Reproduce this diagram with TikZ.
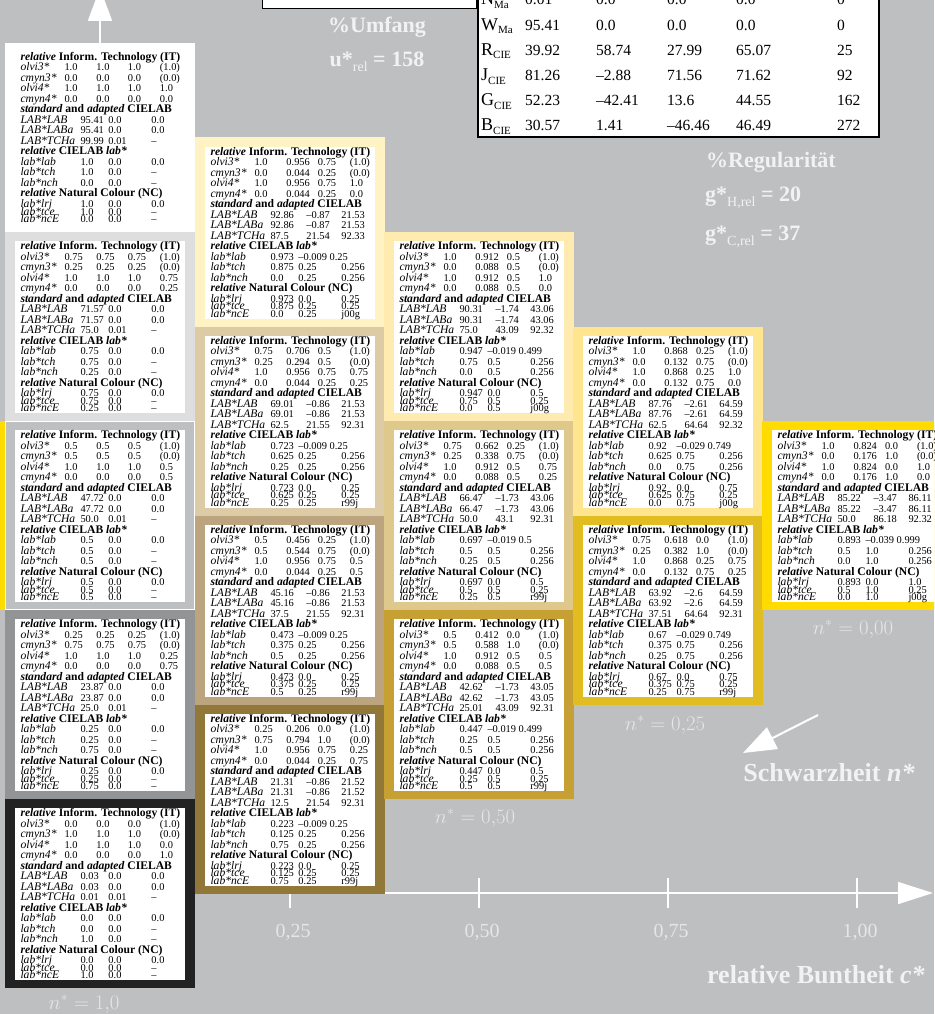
\documentclass[tikz,border=0pt]{standalone}
\usepackage{fontspec}
\setmainfont{Liberation Serif}
\usetikzlibrary{arrows.meta}
\definecolor{bg}{HTML}{BEBFC1}
\definecolor{lite}{HTML}{F2F2F2}
\definecolor{nlab}{HTML}{E6E6E6}
\definecolor{colA0}{HTML}{FFFFFF}
\definecolor{colA1}{HTML}{DEDEDE}
\definecolor{colA2}{HTML}{BEBFC1}
\definecolor{colA3}{HTML}{939496}
\definecolor{colA4}{HTML}{222222}
\definecolor{colB0}{HTML}{FFF3C4}
\definecolor{colB1}{HTML}{DCCBA4}
\definecolor{colB2}{HTML}{BBA47E}
\definecolor{colB3}{HTML}{917839}
\definecolor{colC0}{HTML}{FFEBB0}
\definecolor{colC1}{HTML}{DEC88C}
\definecolor{colC2}{HTML}{C7A034}
\definecolor{colD0}{HTML}{FFE68E}
\definecolor{colD1}{HTML}{E1BD22}
\definecolor{colE0}{HTML}{FFDB00}
\newcommand\cellfont{\fontsize{11.6}{10.5}\selectfont\lineskiplimit=-30pt\lineskip=0pt}
\newcommand\numf{\fontsize{10.4}{10.5}\selectfont}
\newcommand\rowIT[5]{\hbox{\makebox[44pt][l]{\itshape #1}\makebox[32pt][l]{\numf #2}\makebox[31.5pt][l]{\numf #3}\makebox[32pt][l]{\numf #4}{\numf #5}}}
\newcommand\rowG[4]{\hbox{\makebox[60pt][l]{\itshape #1}\makebox[28pt][l]{\numf #2}\makebox[43pt][l]{\numf #3}{\numf #4}}}
\newcommand\rowB[4]{\hbox{\makebox[60pt][l]{\itshape #1}\makebox[36pt][l]{\numf #2}\makebox[35pt][l]{\numf #3}{\numf #4}}}
\newcommand\rowL[4]{\hbox{\makebox[60pt][l]{\itshape #1}\makebox[28pt][l]{\numf #2}\makebox[43pt][l]{\numf #3}{\numf #4}}}
\newcommand\hA{\hbox{\textbf{\textit{relative} Inform. Technology (IT)}}}
\newcommand\hB{\hbox{\textbf{\textit{standard} and \textit{adapted} CIELAB}}}
\newcommand\hC{\hbox{\textbf{\textit{relative} CIELAB \textit{lab*}}}}
\newcommand\hD{\hbox{\textbf{\textit{relative} Natural Colour (NC)}}}
\newcommand\tight{\vskip-2.9pt}
\newcommand\cellat[5]{%
  \fill[#4] (#2,#3) rectangle ++(190,189);
  \fill[white] (#2+10,#3+9) rectangle ++(170,172);
  \node[cellt] (#1) at (#2+15.5,#3+17.5) {\vtop{\cellfont #5}};
}
\newcommand\trow[9]{%
  \node[tl] (#1L) at (481,#2) {{\fontsize{18}{18}\selectfont #3}\raisebox{-3.5pt}{\fontsize{11}{11}\selectfont #4}};
  \node[tv] (#1a) at (525,#2) {#5};
  \node[tv] (#1b) at (596,#2) {#6};
  \node[tv] (#1c) at (667,#2) {#7};
  \node[tv] (#1d) at (736,#2) {#8};
  \node[tv] (#1e) at (837,#2) {#9};
}
\begin{document}
\begin{tikzpicture}[x=1pt,y=-1pt,
  cellt/.style={anchor=base west,inner sep=0,outer sep=0},
  tl/.style={anchor=base west,inner sep=0},
  tv/.style={anchor=base west,inner sep=0,font=\fontsize{15.5}{16}\selectfont},
  biglab/.style={text=lite,inner sep=0,font=\fontsize{22}{24}\selectfont\bfseries},
  hugelab/.style={text=lite,inner sep=0,font=\fontsize{26}{28}\selectfont\bfseries},
  nlabel/.style={text=nlab,inner sep=0,font=\fontsize{21}{22}\selectfont},
  ticklab/.style={text=nlab,inner sep=0,font=\fontsize{20}{22}\selectfont},
  warrow/.style={draw=white,line width=2pt,-{Triangle[length=33pt,width=24pt]}},
  axisline/.style={draw=white,line width=1.7pt},
  tick/.style={draw=white,line width=1.7pt}]
\useasboundingbox (0,0) rectangle (934,1014);
\clip (0,0) rectangle (934,1014);
\fill[bg] (0,0) rectangle (934,1014);
% axis (behind cells)
\coordinate (ax0) at (195,893);
\coordinate (ax1) at (933,893);
\draw[axisline,-{Triangle[length=35pt,width=22pt]}] (ax0) -- (ax1);
\foreach \tx/\tl in {290/{0,25},479/{0,50},668/{0,75},857/{1,00}}{
  \coordinate (tA\tx) at (\tx,878);
  \coordinate (tB\tx) at (\tx,908);
  \draw[tick] (tA\tx) -- (tB\tx);
  \node[ticklab] (tl\tx) at (\tx+3,932) {\tl};
}
% up arrow
\coordinate (uA) at (100,43);
\coordinate (uB) at (100,-12);
\draw[warrow] (uA) -- (uB);
% yellow strip at left
\fill[colE0] (0,421) rectangle (5,610);
% column 0
\cellat{c00}{5}{43}{colA0}{%
\hA
\rowIT{olvi3*}{1.0}{1.0}{1.0}{(1.0)}
\rowIT{cmyn3*}{0.0}{0.0}{0.0}{(0.0)}
\rowIT{olvi4*}{1.0}{1.0}{1.0}{1.0}
\rowIT{cmyn4*}{0.0}{0.0}{0.0}{0.0}
\hB
\rowG{LAB*LAB}{95.41}{0.0}{0.0}
\rowG{LAB*LABa}{95.41}{0.0}{0.0}
\rowG{LAB*TCHa}{99.99}{0.01}{–}
\hC
\rowL{lab*lab}{1.0}{0.0}{0.0}
\rowL{lab*tch}{1.0}{0.0}{–}
\rowL{lab*nch}{0.0}{0.0}{–}
\hD
\rowL{lab*lrj}{1.0}{0.0}{0.0}\tight
\rowL{lab*tce}{1.0}{0.0}{–}\tight
\rowL{lab*ncE}{0.0}{0.0}{–}}
\cellat{c01}{5}{232}{colA1}{%
\hA
\rowIT{olvi3*}{0.75}{0.75}{0.75}{(1.0)}
\rowIT{cmyn3*}{0.25}{0.25}{0.25}{(0.0)}
\rowIT{olvi4*}{1.0}{1.0}{1.0}{0.75}
\rowIT{cmyn4*}{0.0}{0.0}{0.0}{0.25}
\hB
\rowG{LAB*LAB}{71.57}{0.0}{0.0}
\rowG{LAB*LABa}{71.57}{0.0}{0.0}
\rowG{LAB*TCHa}{75.0}{0.01}{–}
\hC
\rowL{lab*lab}{0.75}{0.0}{0.0}
\rowL{lab*tch}{0.75}{0.0}{–}
\rowL{lab*nch}{0.25}{0.0}{–}
\hD
\rowL{lab*lrj}{0.75}{0.0}{0.0}\tight
\rowL{lab*tce}{0.75}{0.0}{–}\tight
\rowL{lab*ncE}{0.25}{0.0}{–}}
\cellat{c02}{5}{421}{colA2}{%
\hA
\rowIT{olvi3*}{0.5}{0.5}{0.5}{(1.0)}
\rowIT{cmyn3*}{0.5}{0.5}{0.5}{(0.0)}
\rowIT{olvi4*}{1.0}{1.0}{1.0}{0.5}
\rowIT{cmyn4*}{0.0}{0.0}{0.0}{0.5}
\hB
\rowG{LAB*LAB}{47.72}{0.0}{0.0}
\rowG{LAB*LABa}{47.72}{0.0}{0.0}
\rowG{LAB*TCHa}{50.0}{0.01}{–}
\hC
\rowL{lab*lab}{0.5}{0.0}{0.0}
\rowL{lab*tch}{0.5}{0.0}{–}
\rowL{lab*nch}{0.5}{0.0}{–}
\hD
\rowL{lab*lrj}{0.5}{0.0}{0.0}\tight
\rowL{lab*tce}{0.5}{0.0}{–}\tight
\rowL{lab*ncE}{0.5}{0.0}{–}}
\draw[white,line width=1pt] (5.5,421.5) rectangle (194.5,609.5);
\cellat{c03}{5}{610}{colA3}{%
\hA
\rowIT{olvi3*}{0.25}{0.25}{0.25}{(1.0)}
\rowIT{cmyn3*}{0.75}{0.75}{0.75}{(0.0)}
\rowIT{olvi4*}{1.0}{1.0}{1.0}{0.25}
\rowIT{cmyn4*}{0.0}{0.0}{0.0}{0.75}
\hB
\rowG{LAB*LAB}{23.87}{0.0}{0.0}
\rowG{LAB*LABa}{23.87}{0.0}{0.0}
\rowG{LAB*TCHa}{25.0}{0.01}{–}
\hC
\rowL{lab*lab}{0.25}{0.0}{0.0}
\rowL{lab*tch}{0.25}{0.0}{–}
\rowL{lab*nch}{0.75}{0.0}{–}
\hD
\rowL{lab*lrj}{0.25}{0.0}{0.0}\tight
\rowL{lab*tce}{0.25}{0.0}{–}\tight
\rowL{lab*ncE}{0.75}{0.0}{–}}
\cellat{c04}{5}{799}{colA4}{%
\hA
\rowIT{olvi3*}{0.0}{0.0}{0.0}{(1.0)}
\rowIT{cmyn3*}{1.0}{1.0}{1.0}{(0.0)}
\rowIT{olvi4*}{1.0}{1.0}{1.0}{0.0}
\rowIT{cmyn4*}{0.0}{0.0}{0.0}{1.0}
\hB
\rowG{LAB*LAB}{0.03}{0.0}{0.0}
\rowG{LAB*LABa}{0.03}{0.0}{0.0}
\rowG{LAB*TCHa}{0.01}{0.01}{–}
\hC
\rowL{lab*lab}{0.0}{0.0}{0.0}
\rowL{lab*tch}{0.0}{0.0}{–}
\rowL{lab*nch}{1.0}{0.0}{–}
\hD
\rowL{lab*lrj}{0.0}{0.0}{0.0}\tight
\rowL{lab*tce}{0.0}{0.0}{–}\tight
\rowL{lab*ncE}{1.0}{0.0}{–}}
% column 1
\cellat{c10}{195}{137.5}{colB0}{%
\hA
\rowIT{olvi3*}{1.0}{0.956}{0.75}{(1.0)}
\rowIT{cmyn3*}{0.0}{0.044}{0.25}{(0.0)}
\rowIT{olvi4*}{1.0}{0.956}{0.75}{1.0}
\rowIT{cmyn4*}{0.0}{0.044}{0.25}{0.0}
\hB
\rowB{LAB*LAB}{92.86}{–0.87}{21.53}
\rowB{LAB*LABa}{92.86}{–0.87}{21.53}
\rowB{LAB*TCHa}{87.5}{21.54}{92.33}
\hC
\rowL{lab*lab}{0.973}{–0.009 0.25}{}
\rowL{lab*tch}{0.875}{0.25}{0.256}
\rowL{lab*nch}{0.0}{0.25}{0.256}
\hD
\rowL{lab*lrj}{0.973}{0.0}{0.25}\tight
\rowL{lab*tce}{0.875}{0.25}{0.25}\tight
\rowL{lab*ncE}{0.0}{0.25}{j00g}}
\cellat{c11}{195}{326.5}{colB1}{%
\hA
\rowIT{olvi3*}{0.75}{0.706}{0.5}{(1.0)}
\rowIT{cmyn3*}{0.25}{0.294}{0.5}{(0.0)}
\rowIT{olvi4*}{1.0}{0.956}{0.75}{0.75}
\rowIT{cmyn4*}{0.0}{0.044}{0.25}{0.25}
\hB
\rowB{LAB*LAB}{69.01}{–0.86}{21.53}
\rowB{LAB*LABa}{69.01}{–0.86}{21.53}
\rowB{LAB*TCHa}{62.5}{21.55}{92.31}
\hC
\rowL{lab*lab}{0.723}{–0.009 0.25}{}
\rowL{lab*tch}{0.625}{0.25}{0.256}
\rowL{lab*nch}{0.25}{0.25}{0.256}
\hD
\rowL{lab*lrj}{0.723}{0.0}{0.25}\tight
\rowL{lab*tce}{0.625}{0.25}{0.25}\tight
\rowL{lab*ncE}{0.25}{0.25}{r99j}}
\cellat{c12}{195}{515.5}{colB2}{%
\hA
\rowIT{olvi3*}{0.5}{0.456}{0.25}{(1.0)}
\rowIT{cmyn3*}{0.5}{0.544}{0.75}{(0.0)}
\rowIT{olvi4*}{1.0}{0.956}{0.75}{0.5}
\rowIT{cmyn4*}{0.0}{0.044}{0.25}{0.5}
\hB
\rowB{LAB*LAB}{45.16}{–0.86}{21.53}
\rowB{LAB*LABa}{45.16}{–0.86}{21.53}
\rowB{LAB*TCHa}{37.5}{21.55}{92.31}
\hC
\rowL{lab*lab}{0.473}{–0.009 0.25}{}
\rowL{lab*tch}{0.375}{0.25}{0.256}
\rowL{lab*nch}{0.5}{0.25}{0.256}
\hD
\rowL{lab*lrj}{0.473}{0.0}{0.25}\tight
\rowL{lab*tce}{0.375}{0.25}{0.25}\tight
\rowL{lab*ncE}{0.5}{0.25}{r99j}}
\cellat{c13}{195}{704.5}{colB3}{%
\hA
\rowIT{olvi3*}{0.25}{0.206}{0.0}{(1.0)}
\rowIT{cmyn3*}{0.75}{0.794}{1.0}{(0.0)}
\rowIT{olvi4*}{1.0}{0.956}{0.75}{0.25}
\rowIT{cmyn4*}{0.0}{0.044}{0.25}{0.75}
\hB
\rowB{LAB*LAB}{21.31}{–0.86}{21.52}
\rowB{LAB*LABa}{21.31}{–0.86}{21.52}
\rowB{LAB*TCHa}{12.5}{21.54}{92.31}
\hC
\rowL{lab*lab}{0.223}{–0.009 0.25}{}
\rowL{lab*tch}{0.125}{0.25}{0.256}
\rowL{lab*nch}{0.75}{0.25}{0.256}
\hD
\rowL{lab*lrj}{0.223}{0.0}{0.25}\tight
\rowL{lab*tce}{0.125}{0.25}{0.25}\tight
\rowL{lab*ncE}{0.75}{0.25}{r99j}}
% column 2
\cellat{c20}{384}{232}{colC0}{%
\hA
\rowIT{olvi3*}{1.0}{0.912}{0.5}{(1.0)}
\rowIT{cmyn3*}{0.0}{0.088}{0.5}{(0.0)}
\rowIT{olvi4*}{1.0}{0.912}{0.5}{1.0}
\rowIT{cmyn4*}{0.0}{0.088}{0.5}{0.0}
\hB
\rowB{LAB*LAB}{90.31}{–1.74}{43.06}
\rowB{LAB*LABa}{90.31}{–1.74}{43.06}
\rowB{LAB*TCHa}{75.0}{43.09}{92.32}
\hC
\rowL{lab*lab}{0.947}{–0.019 0.499}{}
\rowL{lab*tch}{0.75}{0.5}{0.256}
\rowL{lab*nch}{0.0}{0.5}{0.256}
\hD
\rowL{lab*lrj}{0.947}{0.0}{0.5}\tight
\rowL{lab*tce}{0.75}{0.5}{0.25}\tight
\rowL{lab*ncE}{0.0}{0.5}{j00g}}
\cellat{c21}{384}{421}{colC1}{%
\hA
\rowIT{olvi3*}{0.75}{0.662}{0.25}{(1.0)}
\rowIT{cmyn3*}{0.25}{0.338}{0.75}{(0.0)}
\rowIT{olvi4*}{1.0}{0.912}{0.5}{0.75}
\rowIT{cmyn4*}{0.0}{0.088}{0.5}{0.25}
\hB
\rowB{LAB*LAB}{66.47}{–1.73}{43.06}
\rowB{LAB*LABa}{66.47}{–1.73}{43.06}
\rowB{LAB*TCHa}{50.0}{43.1}{92.31}
\hC
\rowL{lab*lab}{0.697}{–0.019 0.5}{}
\rowL{lab*tch}{0.5}{0.5}{0.256}
\rowL{lab*nch}{0.25}{0.5}{0.256}
\hD
\rowL{lab*lrj}{0.697}{0.0}{0.5}\tight
\rowL{lab*tce}{0.5}{0.5}{0.25}\tight
\rowL{lab*ncE}{0.25}{0.5}{r99j}}
\cellat{c22}{384}{610}{colC2}{%
\hA
\rowIT{olvi3*}{0.5}{0.412}{0.0}{(1.0)}
\rowIT{cmyn3*}{0.5}{0.588}{1.0}{(0.0)}
\rowIT{olvi4*}{1.0}{0.912}{0.5}{0.5}
\rowIT{cmyn4*}{0.0}{0.088}{0.5}{0.5}
\hB
\rowB{LAB*LAB}{42.62}{–1.73}{43.05}
\rowB{LAB*LABa}{42.62}{–1.73}{43.05}
\rowB{LAB*TCHa}{25.01}{43.09}{92.31}
\hC
\rowL{lab*lab}{0.447}{–0.019 0.499}{}
\rowL{lab*tch}{0.25}{0.5}{0.256}
\rowL{lab*nch}{0.5}{0.5}{0.256}
\hD
\rowL{lab*lrj}{0.447}{0.0}{0.5}\tight
\rowL{lab*tce}{0.25}{0.5}{0.25}\tight
\rowL{lab*ncE}{0.5}{0.5}{r99j}}
% column 3
\cellat{c30}{573}{326.5}{colD0}{%
\hA
\rowIT{olvi3*}{1.0}{0.868}{0.25}{(1.0)}
\rowIT{cmyn3*}{0.0}{0.132}{0.75}{(0.0)}
\rowIT{olvi4*}{1.0}{0.868}{0.25}{1.0}
\rowIT{cmyn4*}{0.0}{0.132}{0.75}{0.0}
\hB
\rowB{LAB*LAB}{87.76}{–2.61}{64.59}
\rowB{LAB*LABa}{87.76}{–2.61}{64.59}
\rowB{LAB*TCHa}{62.5}{64.64}{92.32}
\hC
\rowL{lab*lab}{0.92}{–0.029 0.749}{}
\rowL{lab*tch}{0.625}{0.75}{0.256}
\rowL{lab*nch}{0.0}{0.75}{0.256}
\hD
\rowL{lab*lrj}{0.92}{0.0}{0.75}\tight
\rowL{lab*tce}{0.625}{0.75}{0.25}\tight
\rowL{lab*ncE}{0.0}{0.75}{j00g}}
\cellat{c31}{573}{515.5}{colD1}{%
\hA
\rowIT{olvi3*}{0.75}{0.618}{0.0}{(1.0)}
\rowIT{cmyn3*}{0.25}{0.382}{1.0}{(0.0)}
\rowIT{olvi4*}{1.0}{0.868}{0.25}{0.75}
\rowIT{cmyn4*}{0.0}{0.132}{0.75}{0.25}
\hB
\rowB{LAB*LAB}{63.92}{–2.6}{64.59}
\rowB{LAB*LABa}{63.92}{–2.6}{64.59}
\rowB{LAB*TCHa}{37.51}{64.64}{92.31}
\hC
\rowL{lab*lab}{0.67}{–0.029 0.749}{}
\rowL{lab*tch}{0.375}{0.75}{0.256}
\rowL{lab*nch}{0.25}{0.75}{0.256}
\hD
\rowL{lab*lrj}{0.67}{0.0}{0.75}\tight
\rowL{lab*tce}{0.375}{0.75}{0.25}\tight
\rowL{lab*ncE}{0.25}{0.75}{r99j}}
% column 4
\cellat{c40}{762}{421}{colE0}{%
\hA
\rowIT{olvi3*}{1.0}{0.824}{0.0}{(1.0)}
\rowIT{cmyn3*}{0.0}{0.176}{1.0}{(0.0)}
\rowIT{olvi4*}{1.0}{0.824}{0.0}{1.0}
\rowIT{cmyn4*}{0.0}{0.176}{1.0}{0.0}
\hB
\rowB{LAB*LAB}{85.22}{–3.47}{86.11}
\rowB{LAB*LABa}{85.22}{–3.47}{86.11}
\rowB{LAB*TCHa}{50.0}{86.18}{92.32}
\hC
\rowL{lab*lab}{0.893}{–0.039 0.999}{}
\rowL{lab*tch}{0.5}{1.0}{0.256}
\rowL{lab*nch}{0.0}{1.0}{0.256}
\hD
\rowL{lab*lrj}{0.893}{0.0}{1.0}\tight
\rowL{lab*tce}{0.5}{1.0}{0.25}\tight
\rowL{lab*ncE}{0.0}{1.0}{j00g}}
% top boxes
\draw[fill=white,line width=1pt] (262,-5) rectangle (476,9);
\draw[fill=white,line width=1.2pt] (478,-5) rectangle (879,137);
\trow{N}{5}{N}{Ma}{0.01}{0.0}{0.0}{0.0}{0}
\trow{W}{30.2}{W}{Ma}{95.41}{0.0}{0.0}{0.0}{0}
\trow{R}{55.4}{R}{CIE}{39.92}{58.74}{27.99}{65.07}{25}
\trow{J}{80.6}{J}{CIE}{81.26}{–2.88}{71.56}{71.62}{92}
\trow{G}{105.8}{G}{CIE}{52.23}{–42.41}{13.6}{44.55}{162}
\trow{B}{131}{B}{CIE}{30.57}{1.41}{–46.46}{46.49}{272}
% labels
\node[biglab] (umf) at (377,27) {\%Umfang};
\node[biglab] (urel) at (377,62) {u*\raisebox{-5pt}{\fontsize{14}{14}\selectfont\mdseries rel} = 158};
\node[biglab] (reg) at (771,162) {\%Regularität};
\node[biglab,anchor=west] (gh) at (705,198) {g*\raisebox{-5pt}{\fontsize{14}{14}\selectfont\mdseries H,rel} = 20};
\node[biglab,anchor=west] (gc) at (705,237) {g*\raisebox{-5pt}{\fontsize{14}{14}\selectfont\mdseries C,rel} = 37};
\node[nlabel] (n00) at (853,629) {$n^* = 0{,}00$};
\node[nlabel] (n25) at (665,725) {$n^* = 0{,}25$};
\node[nlabel] (n50) at (475,818) {$n^* = 0{,}50$};
\node[nlabel] (n10) at (84,1004) {$n^* = 1{,}0$};
\coordinate (sA) at (818,715);
\coordinate (sB) at (743,753);
\draw[warrow] (sA) -- (sB);
\node[hugelab] (schw) at (829,773) {Schwarzheit \textit{n*}};
\node[hugelab] (bunt) at (816,975) {relative Buntheit \textit{c*}};
\end{tikzpicture}
\end{document}
